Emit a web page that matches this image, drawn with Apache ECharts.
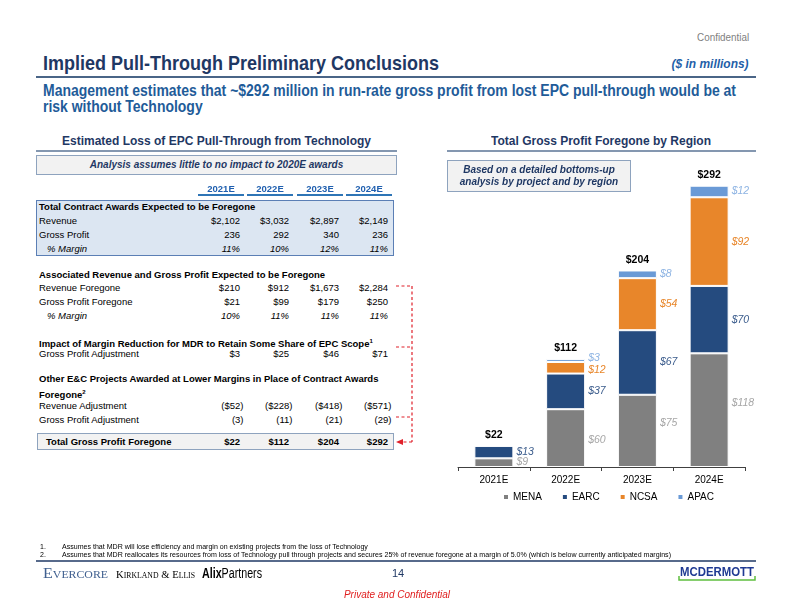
<!DOCTYPE html>
<html>
<head>
<meta charset="utf-8">
<script src="https://cdn.jsdelivr.net/npm/echarts@6/dist/echarts.min.js"></script>
<style>
  html, body { margin:0; padding:0; background:#fff; }
  #page { position:relative; width:792px; height:612px; overflow:hidden; font-family:"Liberation Sans", Arial, sans-serif; }
  .a { position:absolute; white-space:nowrap; }
  .hl { position:absolute; }
  .box { position:absolute; box-sizing:border-box; }
  #chart { position:absolute; left:440px; top:150px; width:352px; height:370px; }
  .tbl { font-size:9.5px; color:#000; }
  .fit { transform-origin:left center; }
  .fitr { transform-origin:right center; }
</style>
</head>
<body>
<div id="page">
  <div class="a fitr" data-w="52" style="right:43px; top:30px; font-size:11px; line-height:14px; color:#7f7f7f;">Confidential</div>
  <div class="a fit" data-w="396" style="left:43px; top:51px; font-size:20.5px; line-height:24px; font-weight:bold; color:#1F3864;">Implied Pull-Through Preliminary Conclusions</div>
  <div class="a fitr" data-w="77" style="right:43px; top:56px; font-size:12.5px; line-height:16px; font-weight:bold; font-style:italic; color:#1F5FA8;">($ in millions)</div>
  <div class="hl" style="left:36px; top:76px; width:720px; height:2px; background:#4A6587;"></div>
  <div class="a fit" id="sub1" data-w="693" style="left:43px; top:83px; font-size:16px; line-height:16px; font-weight:bold; color:#1F5C99;">Management estimates that ~$292 million in run-rate gross profit from lost EPC pull-through would be at</div>
  <div class="a fit" data-same="sub1" style="left:43px; top:99px; font-size:16px; line-height:16px; font-weight:bold; color:#1F5C99;">risk without Technology</div>

  <div class="a fit" data-w="309" style="left:62px; top:133px; font-size:13.5px; line-height:16px; font-weight:bold; color:#1F3864;">Estimated Loss of EPC Pull-Through from Technology</div>
  <div class="a fit" data-w="220" style="left:491px; top:133px; font-size:13.5px; line-height:16px; font-weight:bold; color:#1F3864;">Total Gross Profit Foregone by Region</div>
  <div class="hl" style="left:36px; top:150px; width:361px; height:2px; background:#8497B0;"></div>
  <div class="hl" style="left:447px; top:150px; width:309px; height:2px; background:#8497B0;"></div>

  <div class="box" style="left:36px; top:155px; width:361px; height:20px; background:#F2F2F2; border:1px solid #8EA3BE;"></div>
  <div class="a" style="left:36px; width:361px; top:157px; line-height:16px; text-align:center; font-size:10px; font-weight:bold; font-style:italic; color:#1F3864;">Analysis assumes little to no impact to 2020E awards</div>

  <div id="chart"></div>
  <div class="box" style="left:447px; top:160px; width:184px; height:32px; background:#F2F2F2; border:1px solid #8EA3BE;"></div>
  <div class="a" style="left:447px; width:184px; top:164px; line-height:12px; text-align:center; font-size:10px; font-weight:bold; font-style:italic; color:#1F3864; white-space:normal;">Based on a detailed bottoms-up analysis by project and by region</div>

  <div id="table"></div>

  <svg class="a" style="left:0; top:0;" width="792" height="612">
    <g stroke="#E0202A" stroke-width="1.2" stroke-dasharray="3,2.5" fill="none">
      <line x1="396" y1="286" x2="412" y2="286"/>
      <line x1="396" y1="347" x2="412" y2="347"/>
      <line x1="396" y1="417" x2="412" y2="417"/>
      <line x1="412" y1="286" x2="412" y2="442"/>
      <line x1="412" y1="442" x2="402" y2="442"/>
    </g>
    <polygon points="396,442 403,439 403,445" fill="#E0202A"/>
    <line x1="36" y1="561" x2="756" y2="561" stroke="#1F3864" stroke-width="1.5"/>
    <polyline points="679,576 679,580 755,580 755,576" fill="none" stroke="#5FBF3F" stroke-width="1.5"/>
  </svg>

  <div class="a" style="left:40px; top:542px; font-size:7px; line-height:9px;">1.</div>
  <div class="a fit" data-same="fn2" style="left:62px; top:542px; font-size:7px; line-height:9px;">Assumes that MDR will lose efficiency and margin on existing projects from the loss of Technology</div>
  <div class="a" style="left:40px; top:550px; font-size:7px; line-height:9px;">2.</div>
  <div class="a fit" id="fn2" data-w="609" style="left:62px; top:550px; font-size:7px; line-height:9px;">Assumes that MDR reallocates its resources from loss of Technology pull through projects and secures 25% of revenue foregone at a margin of 5.0% (which is below currently anticipated margins)</div>

  <div class="a fit" data-w="65" style="left:43px; top:565px; font-family:'Liberation Serif', serif; font-variant:small-caps; font-size:15px; line-height:16px; color:#3F5F8F;">Evercore</div>
  <div class="a fit" data-w="79" style="left:116px; top:566px; font-family:'Liberation Serif', serif; font-variant:small-caps; font-size:11px; line-height:16px; color:#000;">Kirkland &amp; Ellis</div>
  <div class="a fit" data-w="60" style="left:202px; top:565px; font-size:14px; line-height:16px; color:#000;"><b>Alix</b>Partners</div>
  <div class="a" style="left:388px; width:20px; text-align:center; top:566px; font-size:11px; line-height:14px; color:#1F3864;">14</div>
  <div class="a fit" data-w="74" style="left:680px; top:565px; font-size:13px; line-height:14px; font-weight:bold; color:#1F3A93;">MCDERMOTT</div>
  <div class="a" style="left:297px; width:200px; text-align:center; top:588px; font-size:10px; line-height:14px; font-style:italic; color:#E02020;">Private and Confidential</div>
</div>

<script>
// ---------- data ----------
const years = ['2021E', '2022E', '2023E', '2024E'];
const awardsRevenue = ['$2,102', '$3,032', '$2,897', '$2,149'];
const awardsGrossProfit = ['236', '292', '340', '236'];
const awardsMargin = ['11%', '10%', '12%', '11%'];
const foregoneRevenue = ['$210', '$912', '$1,673', '$2,284'];
const foregoneGrossProfit = ['$21', '$99', '$179', '$250'];
const foregoneMargin = ['10%', '11%', '11%', '11%'];
const marginReductionAdj = ['$3', '$25', '$46', '$71'];
const otherRevenueAdj = ['($52)', '($228)', '($418)', '($571)'];
const otherGrossProfitAdj = ['(3)', '(11)', '(21)', '(29)'];
const totalGrossProfit = ['$22', '$112', '$204', '$292'];

const regions = ['MENA', 'EARC', 'NCSA', 'APAC'];
const mena = [9, 60, 75, 118];
const earc = [13, 37, 67, 70];
const ncsa = [0, 12, 54, 92];
const apac = [0, 3, 8, 12];

// ---------- text width fitting ----------
const scales = {};
document.querySelectorAll('[data-w]').forEach(e => {
  const w = e.getBoundingClientRect().width;
  const s = parseFloat(e.dataset.w) / w;
  scales[e.id] = s;
  e.style.transform = 'scaleX(' + s + ')';
});
document.querySelectorAll('[data-same]').forEach(e => {
  e.style.transform = 'scaleX(' + scales[e.dataset.same] + ')';
});

// ---------- table ----------
const colRight = [240, 289, 339, 388];
const colCenter = [221, 270, 320, 369];
const tbl = document.getElementById('table');
function el(html, css) {
  const d = document.createElement('div');
  d.className = 'a tbl';
  d.style.cssText = css;
  d.innerHTML = html;
  tbl.appendChild(d);
  return d;
}
function row(label, vals, y, opts) {
  opts = opts || {};
  const lh = 12;
  const base = 'top:' + (y - lh / 2) + 'px; line-height:' + lh + 'px;' + (opts.bold ? 'font-weight:bold;' : '') + (opts.italic ? 'font-style:italic;' : '');
  if (label !== null) el(label, base + 'left:' + (opts.indent || 39) + 'px;');
  if (vals) vals.forEach((v, i) => {
    const shift = /\)$/.test(v) ? 3.5 : 0;
    el(v, base + 'right:' + (792 - colRight[i] - shift) + 'px; text-align:right;');
  });
}
years.forEach((y, i) => {
  el(y, 'top:183px; line-height:12px; left:' + (colCenter[i] - 25) + 'px; width:50px; text-align:center; font-weight:bold; color:#1F5FAF;');
  const u = document.createElement('div');
  u.className = 'hl';
  u.style.cssText = 'left:' + (colRight[i] - 42) + 'px; top:194px; width:46px; height:2px; background:#2E75B6;';
  tbl.appendChild(u);
});
const b1 = document.createElement('div');
b1.className = 'box';
b1.style.cssText = 'left:36px; top:200px; width:358px; height:56px; background:#DCE6F2; border:1px solid #5B7FB5;';
tbl.appendChild(b1);
row('Total Contract Awards Expected to be Foregone', null, 207, { bold: true });
row('Revenue', awardsRevenue, 221);
row('Gross Profit', awardsGrossProfit, 235);
row('% Margin', awardsMargin, 249, { italic: true, indent: 47 });

row('Associated Revenue and Gross Profit Expected to be Foregone', null, 275, { bold: true });
row('Revenue Foregone', foregoneRevenue, 288);
row('Gross Profit Foregone', foregoneGrossProfit, 302);
row('% Margin', foregoneMargin, 316, { italic: true, indent: 47 });

row('Impact of Margin Reduction for MDR to Retain Some Share of EPC Scope<sup style="font-size:6px; vertical-align:4px;">1</sup>', null, 340.5, { bold: true });
row('Gross Profit Adjustment', marginReductionAdj, 353.5);

row('Other E&amp;C Projects Awarded at Lower Margins in Place of Contract Awards', null, 378.5, { bold: true });
row('Foregone<sup style="font-size:6px; vertical-align:4px;">2</sup>', null, 392, { bold: true });
row('Revenue Adjustment', otherRevenueAdj, 406);
row('Gross Profit Adjustment', otherGrossProfitAdj, 419.5);

const b2 = document.createElement('div');
b2.className = 'box';
b2.style.cssText = 'left:37px; top:433px; width:357px; height:17px; background:#F2F2F2; border:1px solid #8EA3BE;';
tbl.appendChild(b2);
row('Total Gross Profit Foregone', totalGrossProfit, 441.5, { bold: true, indent: 46 });

// ---------- chart ----------
const totals = years.map((_, i) => mena[i] + earc[i] + ncsa[i] + apac[i]);
const colors = { MENA: '#808080', EARC: '#254B7F', NCSA: '#E8862A', APAC: '#6A9AD6' };
const labelColors = { MENA: '#A6A6A6', EARC: '#3B5C8C', NCSA: '#E8862A', APAC: '#8EB4E3' };
const seriesData = { MENA: mena, EARC: earc, NCSA: ncsa, APAC: apac };
// vertical nudges of individual value labels (style only)
const labelNudge = {
  MENA: [[0, -1], [0, 2], [0, -8], [0, -7]],
  EARC: [[0, 0], [0, 0], [0, 0], [0, 0]],
  NCSA: [[0, 0], [0, 2], [0, 0], [0, 0]],
  APAC: [[0, 0], [0, -2], [0, 0], [0, 0]]
};

const chart = echarts.init(document.getElementById('chart'), null, { renderer: 'canvas' });
const series = regions.map(r => ({
  name: r,
  type: 'bar',
  stack: 'gp',
  barWidth: 39,
  data: seriesData[r].map((v, i) => ({ value: v, label: { offset: labelNudge[r][i] } })),
  itemStyle: { color: colors[r], borderColor: '#fff', borderWidth: 1 },
  label: {
    show: true, position: 'right', distance: 3,
    fontFamily: 'Liberation Sans', fontSize: 10.5, fontStyle: 'italic', color: labelColors[r],
    formatter: p => (p.value ? '$' + p.value : '')
  },
  emphasis: { disabled: true }
}));
series.push({
  name: 'Total',
  type: 'bar',
  barWidth: 39,
  barGap: '-100%',
  data: totals,
  itemStyle: { color: 'rgba(0,0,0,0)' },
  label: {
    show: true, position: 'top', distance: 5,
    fontFamily: 'Liberation Sans', fontSize: 10.5, fontWeight: 'bold', color: '#000',
    formatter: p => '$' + p.value
  },
  silent: true,
  z: 1
});
chart.setOption({
  animation: false,
  grid: { left: 18, right: 47, top: 28, bottom: 53, containLabel: false },
  legend: {
    data: regions,
    left: 62, top: 342,
    itemWidth: 6, itemHeight: 6, itemGap: 19,
    icon: 'rect',
    padding: 0,
    textStyle: { fontFamily: 'Liberation Sans', fontSize: 10, color: '#000', padding: [0, 0, 0, -1] },
    selectedMode: false
  },
  xAxis: {
    type: 'category',
    data: years,
    axisLine: { lineStyle: { color: '#404040', width: 1 } },
    axisTick: { show: true, length: 4, lineStyle: { color: '#404040' } },
    axisLabel: { fontFamily: 'Liberation Sans', fontSize: 10, color: '#000', margin: 8 }
  },
  yAxis: { type: 'value', min: 0, max: 300, show: false, splitLine: { show: false } },
  series: series
});
</script>
</body>
</html>
